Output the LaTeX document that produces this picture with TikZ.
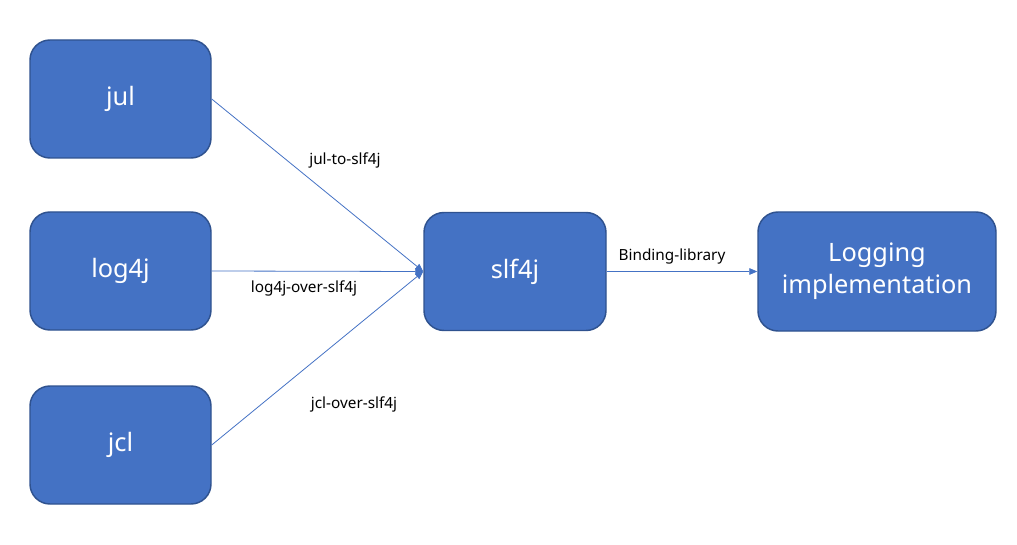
\documentclass[tikz,border=0pt]{standalone}
\usepackage{fontspec}
\setmainfont{Noto Sans}
\usetikzlibrary{positioning,arrows.meta}
\definecolor{boxblue}{HTML}{4472C4}
\definecolor{boxedge}{HTML}{2F528F}
\tikzset{
  box/.style={draw=boxedge, line width=1.1pt, fill=boxblue, rounded corners=15pt,
    text=white, font=\fontsize{19}{24}\selectfont, align=center, inner sep=0pt,
    minimum width=135.75pt, minimum height=88.5pt},
  conn/.style={draw=boxblue, line width=0.6pt, -{Triangle[length=6pt,width=5pt]}},
  lbl/.style={font=\fontsize{11.5}{13}\selectfont, inner sep=0pt}
}
\begin{document}
\begin{tikzpicture}[x=0.75pt,y=-0.75pt]
  \useasboundingbox (0,0) rectangle (1017,545);
  % sources
  \node[box] (jul) at (120.5,99) {jul};
  \node[box] (logfourj) at (120.5,271) {log4j};
  \node[box] (jcl) at (120.5,445) {jcl};
  % facade and backend
  \node[box, minimum width=136.5pt] (slf) at (515,271.5) {slf4j};
  \node[box, minimum width=178.5pt, minimum height=89.25pt] (impl) at (877,271.5) {Logging\\implementation};
  % bridges
  \draw[conn] (jul.east) -- (slf.west);
  \draw[conn] (logfourj.east) -- (slf.west);
  \draw[conn] (jcl.east) -- (slf.west);
  \draw[conn] (slf.east) -- (impl.west);
  \node[lbl] (julto) at (345,160) {jul-to-slf4j};
  \node[lbl] (logover) at (304,288) {log4j-over-slf4j};
  \node[lbl] (jclover) at (354,404) {jcl-over-slf4j};
  \node[lbl] (binding) at (672,257) {Binding-library};
\end{tikzpicture}
\end{document}
